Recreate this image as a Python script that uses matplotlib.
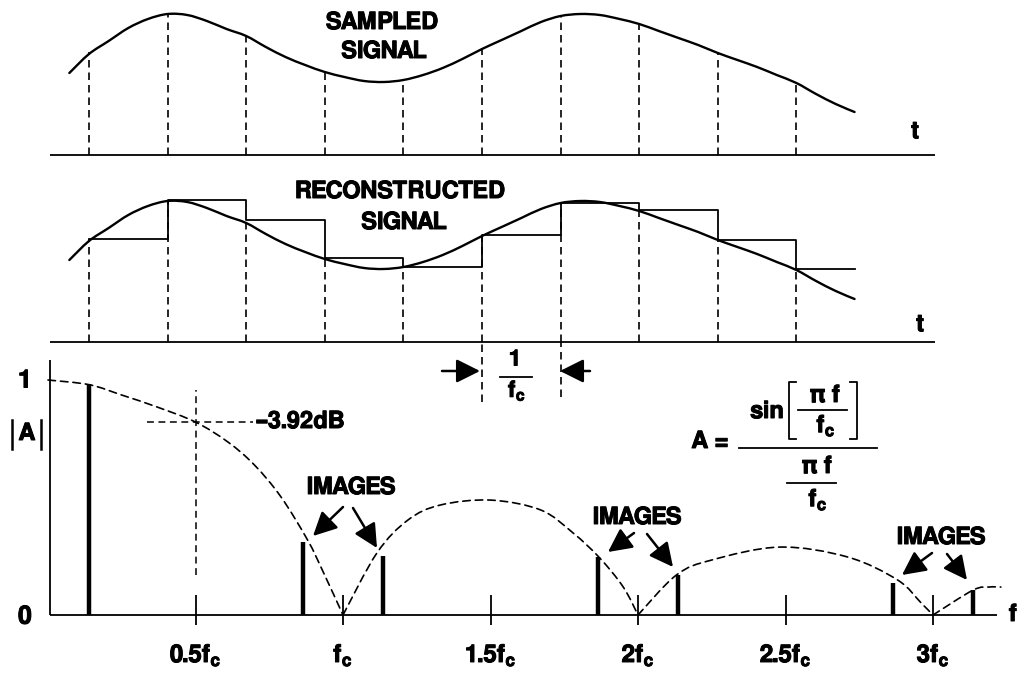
import matplotlib
matplotlib.use('Agg')
import matplotlib.pyplot as plt
from matplotlib.lines import Line2D
from matplotlib.patches import FancyArrowPatch, PathPatch
from matplotlib.path import Path
import matplotlib.patheffects as pe

FONT = 'FreeSans'
plt.rcParams['font.family'] = [FONT, 'Liberation Sans', 'DejaVu Sans']
plt.rcParams['font.weight'] = 'bold'
plt.rcParams['mathtext.fontset'] = 'custom'
plt.rcParams['mathtext.rm'] = FONT + ':bold'
plt.rcParams['mathtext.bf'] = FONT + ':bold'
plt.rcParams['mathtext.it'] = FONT + ':bold'

# ---------------- data ----------------
# analog signal (time in sample periods, amplitude arbitrary)
sig_t = [-0.25, 0, 0.25, 0.5, 0.75, 1, 1.25, 1.5, 1.75, 2, 2.25, 2.5, 2.75, 3,
         3.25, 3.5, 3.75, 4, 4.25, 4.5, 4.75, 5, 5.25, 5.5, 5.75, 6, 6.25, 6.5,
         6.75, 7, 7.25, 7.5, 7.75, 8, 8.25, 8.5, 8.75, 9, 9.25, 9.5, 9.74]
sig_v = [0.82, 1.01, 1.14, 1.27, 1.36, 1.41, 1.40, 1.34, 1.26, 1.19, 1.08, 0.98,
         0.90, 0.83, 0.78, 0.74, 0.73, 0.75, 0.80, 0.87, 0.96, 1.06, 1.15, 1.24,
         1.33, 1.39, 1.41, 1.40, 1.36, 1.31, 1.24, 1.17, 1.10, 1.02, 0.95, 0.88,
         0.80, 0.72, 0.61, 0.51, 0.43]
# samples (zero-order hold values)
sample_t = [0, 1, 2, 3, 4, 5, 6, 7, 8, 9]
sample_v = [1.03, 1.42, 1.22, 0.84, 0.75, 1.07, 1.39, 1.32, 1.02, 0.73]
hold_end = 9.74

# sin(x)/x envelope (frequency in units of fc), one list per lobe
lobe1_f = [0.0, 0.14, 0.25, 0.37, 0.5, 0.61, 0.70, 0.79, 0.88, 0.93, 1.0]
lobe1_a = [1.0, 0.98, 0.936, 0.885, 0.821, 0.736, 0.638, 0.502, 0.319, 0.191, 0.0]
lobe2_f = [1.0, 1.115, 1.22, 1.33, 1.5, 1.67, 1.78, 1.87, 1.95, 2.0]
lobe2_a = [0.0, 0.264, 0.404, 0.468, 0.489, 0.447, 0.349, 0.243, 0.119, 0.0]
lobe3_f = [2.0, 2.13, 2.25, 2.48, 2.71, 2.88, 2.96, 3.0]
lobe3_a = [0.0, 0.17, 0.234, 0.289, 0.247, 0.149, 0.051, 0.0]
lobe4_f = [3.0, 3.136, 3.19, 3.23]
lobe4_a = [0.0, 0.106, 0.119, 0.119]
# signal and image lines
img_f = [0.14, 0.865, 1.135, 1.865, 2.135, 2.865, 3.135]
img_a = [0.985, 0.31, 0.25, 0.245, 0.17, 0.135, 0.105]
tick_f = [0.5, 1.0, 1.5, 2.0, 2.5, 3.0]
tick_labels = [r'$\mathbf{0.5f_c}$', r'$\mathbf{f_c}$', r'$\mathbf{1.5f_c}$',
               r'$\mathbf{2f_c}$', r'$\mathbf{2.5f_c}$', r'$\mathbf{3f_c}$']

# ---------------- helpers ----------------
W, H = 1021, 673
fig = plt.figure(figsize=(W / 100, H / 100), dpi=100)
fig.patch.set_facecolor('white')
BOLD = [pe.withStroke(linewidth=0.7, foreground='black')]


def smooth(ax, xs, ys, **kw):
    """Draw a smooth (Catmull-Rom) curve through the given points."""
    pts = list(zip(xs, ys))
    n = len(pts)
    verts = [pts[0]]
    codes = [Path.MOVETO]
    for i in range(n - 1):
        p0 = pts[i - 1] if i > 0 else pts[i]
        p1 = pts[i]
        p2 = pts[i + 1]
        p3 = pts[i + 2] if i + 2 < n else pts[i + 1]
        c1 = (p1[0] + (p2[0] - p0[0]) / 6, p1[1] + (p2[1] - p0[1]) / 6)
        c2 = (p2[0] - (p3[0] - p1[0]) / 6, p2[1] - (p3[1] - p1[1]) / 6)
        verts += [c1, c2, p2]
        codes += [Path.CURVE4] * 3
    ax.add_patch(PathPatch(Path(verts, codes), fill=False, edgecolor='black',
                           capstyle='round', **kw))


def fx(x):
    return x / W


def fy(y):
    return 1 - y / H


def T(x, y, s, size=17, **kw):
    kw.setdefault('ha', 'center')
    kw.setdefault('va', 'center')
    fig.text(fx(x), fy(y), s, fontsize=size, fontweight='bold',
             path_effects=BOLD, **kw)


def L(xs, ys, lw=1.3, **kw):
    fig.add_artist(Line2D([fx(v) for v in xs], [fy(v) for v in ys],
                          transform=fig.transFigure, color='black', lw=lw, **kw))


def arrow(x0, y0, x1, y1):
    fig.add_artist(FancyArrowPatch((fx(x0), fy(y0)), (fx(x1), fy(y1)),
                                   transform=fig.transFigure,
                                   arrowstyle='-|>,head_length=0.8,head_width=0.4',
                                   mutation_scale=18, color='black', lw=1.8,
                                   shrinkA=0, shrinkB=0))


DASH = (0, (4.5, 3))
tpx = 78.6      # px per sample period
t0px = 89       # px of first sample


def time_axes(top_px, bot_px, base_px):
    ax = fig.add_axes([0, 1 - bot_px / H, 1, (bot_px - top_px) / H])
    ax.set_xlim(-t0px / tpx, (W - t0px) / tpx)
    ax.set_ylim((base_px - bot_px) / 100, (base_px - top_px) / 100)
    ax.axis('off')
    ax.hlines(0, (50 - t0px) / tpx, (935 - t0px) / tpx, color='black', lw=1.3)
    return ax


# --- top: sampled signal ---
ax1 = time_axes(0, 160, 155)
smooth(ax1, sig_t, sig_v, lw=1.7)
ax1.vlines(sample_t, 0, sample_v, colors='black', lw=1.2, linestyles=[DASH])
T(382, 23, 'SAMPLED')
T(384, 52, 'SIGNAL')
T(915, 132, 't')

# --- middle: reconstructed signal ---
ax2 = time_axes(160, 350, 342)
smooth(ax2, sig_t, sig_v, lw=1.7)
ax2.step(sample_t + [hold_end], sample_v + [sample_v[-1]], where='post',
         color='black', lw=1.3)
ax2.vlines(sample_t, 0, sample_v, colors='black', lw=1.2, linestyles=[DASH])
ext = ax2.vlines([sample_t[5], sample_t[6]], [-0.60, -0.55], [0, 0],
                 colors='black', lw=1.2, linestyles=[DASH])
ext.set_clip_on(False)
T(400, 192, 'RECONSTRUCTED')
T(404, 223, 'SIGNAL')
T(920, 325, 't')

# 1/fc annotation
arrow(442, 371, 480, 371)
arrow(590, 371, 560, 371)
T(515, 360, '1', size=16)
L([500, 532], [377, 377], lw=1.3)
T(517, 391, r'$\mathbf{f_c}$', size=16)

# --- bottom: spectrum ---
ax3 = fig.add_axes([0, 1 - 673 / H, 1, (673 - 350) / H])
fpx, f0px, apx, a0px = 295, 48, 235, 615
ax3.set_xlim(-f0px / fpx, (W - f0px) / fpx)
ax3.set_ylim((a0px - 673) / apx, (a0px - 350) / apx)
ax3.axis('off')
ax3.hlines(0, (50 - f0px) / fpx, (997 - f0px) / fpx, color='black', lw=1.3)
ax3.vlines((50 - f0px) / fpx, 0, (a0px - 360) / apx, color='black', lw=1.3)
ax3.vlines(tick_f, -10 / apx, 20 / apx, color='black', lw=1.3)
for lf, la in [(lobe1_f, lobe1_a), (lobe2_f, lobe2_a), (lobe3_f, lobe3_a),
               (lobe4_f, lobe4_a)]:
    smooth(ax3, lf, la, lw=1.2, linestyle=(0, (4.5, 3)))
ax3.vlines(img_f, 0, img_a, color='black', lw=3.2)
# -3.92 dB marker lines
ax3.vlines(0.5, (a0px - 575) / apx, (a0px - 390) / apx, color='black', lw=1.1,
           linestyles=[(0, (4.5, 3))])
ax3.hlines((a0px - 422) / apx, (147 - f0px) / fpx, (253 - f0px) / fpx,
           color='black', lw=1.1, linestyles=[(0, (4.5, 3))])
for f, lab in zip(tick_f, tick_labels):
    ax3.text(f, (a0px - 662) / apx, lab, ha='center', va='baseline', fontsize=17.5,
             path_effects=BOLD)

T(25, 381, '1', size=18)
T(25, 617, '0', size=18)
T(1013, 615, 'f')
T(27, 434, 'A')
L([12, 12], [420, 449], lw=1.8)
L([41, 41], [420, 449], lw=1.8)
T(256, 422, '–3.92dB', ha='left')

# images labels + arrows
T(351, 488, 'IMAGES')
arrow(343, 507, 313, 536)
arrow(353, 508, 377, 548)
T(637, 518, 'IMAGES')
arrow(634, 533, 608, 552)
arrow(647, 534, 673, 567)
T(941, 538, 'IMAGES')
arrow(932, 553, 902, 575)
arrow(947, 554, 967, 580)

# formula
T(710, 442, 'A =')
L([739, 877], [448, 448], lw=1.3)
T(767, 412, 'sin')
L([796, 789, 789, 796], [382, 382, 439, 439], lw=1.3)
L([850, 857, 857, 850], [382, 382, 439, 439], lw=1.3)
T(825, 396, 'π f')
L([798, 847], [410, 410], lw=1.3)
T(826, 426, r'$\mathbf{f_c}$')
T(817, 467, 'π f')
L([787, 836], [483, 483], lw=1.3)
T(818, 500, r'$\mathbf{f_c}$')

fig.savefig('out.png', dpi=100, facecolor='white')
